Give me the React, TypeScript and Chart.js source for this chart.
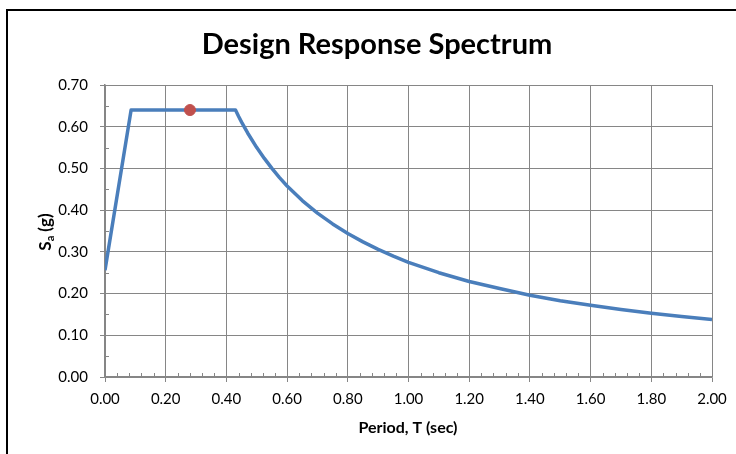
import React, { useEffect, useRef } from "react";
import { Chart, registerables } from "chart.js";

Chart.register(...registerables);

const TITLE = "Design Response Spectrum";
const X_TITLE = "Period, T (sec)";
const Y_TITLE_MAIN = "S";
const Y_TITLE_SUB = "a";
const Y_TITLE_REST = " (g)";

const periods = [0, 0.086, 0.43, 0.44, 0.45, 0.47, 0.5, 0.525, 0.55, 0.575, 0.6, 0.65, 0.7, 0.75, 0.8, 0.85, 0.9, 0.95, 1.0, 1.1, 1.2, 1.3, 1.4, 1.5, 1.6, 1.7, 1.8, 1.9, 2.0];
const spectrum = [0.256, 0.64, 0.64, 0.625, 0.611, 0.585, 0.55, 0.524, 0.5, 0.478, 0.458, 0.423, 0.393, 0.367, 0.344, 0.324, 0.306, 0.29, 0.275, 0.25, 0.229, 0.212, 0.196, 0.183, 0.172, 0.162, 0.153, 0.145, 0.138];
const markerT = [0.28];
const markerSa = [0.64];

const FONT = "Lato, 'Open Sans', sans-serif";

export default function App() {
  const ref = useRef<HTMLCanvasElement | null>(null);
  useEffect(() => {
    if (!ref.current) return;
    const decor = {
      id: "decor",
      beforeDraw(chart: any) {
        const ctx = chart.ctx;
        ctx.save();
        ctx.fillStyle = "#ffffff";
        ctx.fillRect(0, 0, chart.width, chart.height);
        ctx.strokeStyle = "#000000";
        ctx.lineWidth = 2;
        ctx.strokeRect(7, 10, 800, 500);
        ctx.restore();
      },
      beforeDatasetsDraw(chart: any) {
        const ctx = chart.ctx;
        const xs = chart.scales.x;
        const ys = chart.scales.y;
        ctx.save();
        ctx.strokeStyle = "#868686";
        ctx.lineWidth = 1;
        ctx.beginPath();
        for (let i = 1; i < 50; i++) {
          if (i % 5 === 0) continue;
          const px = Math.round(xs.getPixelForValue(i * 0.04)) + 0.5;
          ctx.moveTo(px, ys.bottom);
          ctx.lineTo(px, ys.bottom - 4);
        }
        for (let i = 1; i < 14; i += 2) {
          const py = Math.round(ys.getPixelForValue(i * 0.05)) + 0.5;
          ctx.moveTo(xs.left, py);
          ctx.lineTo(xs.left + 4, py);
        }
        ctx.stroke();
        ctx.restore();
      },
      afterDraw(chart: any) {
        const ctx = chart.ctx;
        ctx.save();
        ctx.fillStyle = "#000000";
        ctx.textAlign = "center";
        ctx.textBaseline = "middle";
        ctx.font = `bold 29px ${FONT}`;
        ctx.fillText(TITLE, 377, 45);
        ctx.font = `bold 16px ${FONT}`;
        ctx.fillText(X_TITLE, 408, 428);
        ctx.translate(45, 232);
        ctx.rotate(-Math.PI / 2);
        ctx.textAlign = "left";
        ctx.textBaseline = "alphabetic";
        const big = `bold 17px ${FONT}`;
        const small = `bold 11px ${FONT}`;
        ctx.font = big;
        const w1 = ctx.measureText(Y_TITLE_MAIN).width;
        const w3 = ctx.measureText(Y_TITLE_REST).width;
        ctx.font = small;
        const w2 = ctx.measureText(Y_TITLE_SUB).width;
        const total = w1 + w2 + w3;
        let x = -total / 2;
        const base = 6;
        ctx.font = big;
        ctx.fillText(Y_TITLE_MAIN, x, base);
        x += w1;
        ctx.font = small;
        ctx.fillText(Y_TITLE_SUB, x, base + 3);
        x += w2;
        ctx.font = big;
        ctx.fillText(Y_TITLE_REST, x, base);
        ctx.restore();
      },
    };

    const chart = new Chart(ref.current, {
      type: "scatter",
      data: {
        datasets: [
          {
            type: "scatter",
            data: markerT.map((t, i) => ({ x: t, y: markerSa[i] })),
            backgroundColor: "#c0504d",
            borderColor: "#c0504d",
            pointRadius: 5.5,
            order: 0,
          },
          {
            type: "line",
            data: periods.map((t, i) => ({ x: t, y: spectrum[i] })),
            borderColor: "#4a7ebb",
            borderWidth: 3.5,
            pointRadius: 0,
            fill: false,
            tension: 0,
            borderJoinStyle: "round",
            order: 1,
          } as any,
        ],
      },
      options: {
        animation: false,
        responsive: false,
        devicePixelRatio: 1,
        layout: { padding: { left: 0, right: 24, top: 85, bottom: 0 } },
        plugins: { legend: { display: false }, tooltip: { enabled: false }, title: { display: false } },
        scales: {
          x: {
            type: "linear",
            min: 0,
            max: 2,
            afterFit: (s: any) => { s.height = 77; },
            ticks: {
              stepSize: 0.2,
              padding: 8,
              color: "#000000",
              font: { family: FONT, size: 15 },
              callback: (v: any) => Number(v).toFixed(2),
            },
            grid: { color: "#868686", lineWidth: 1, tickLength: 5, drawTicks: true },
            border: { color: "#868686", width: 1.5 },
          },
          y: {
            type: "linear",
            min: 0,
            max: 0.7,
            afterFit: (s: any) => { s.width = 105; },
            ticks: {
              stepSize: 0.1,
              padding: 12,
              color: "#000000",
              font: { family: FONT, size: 15 },
              callback: (v: any) => Number(v).toFixed(2),
            },
            grid: { color: "#868686", lineWidth: 1, tickLength: 5, drawTicks: true },
            border: { color: "#868686", width: 1.5 },
          },
        },
      },
      plugins: [decor],
    });
    return () => chart.destroy();
  }, []);
  return (
    <div style={{ position: "absolute", left: 0, top: 0, width: 736, height: 454, background: "#fff" }}>
      <canvas ref={ref} width={736} height={454} style={{ display: "block" }} />
    </div>
  );
}
